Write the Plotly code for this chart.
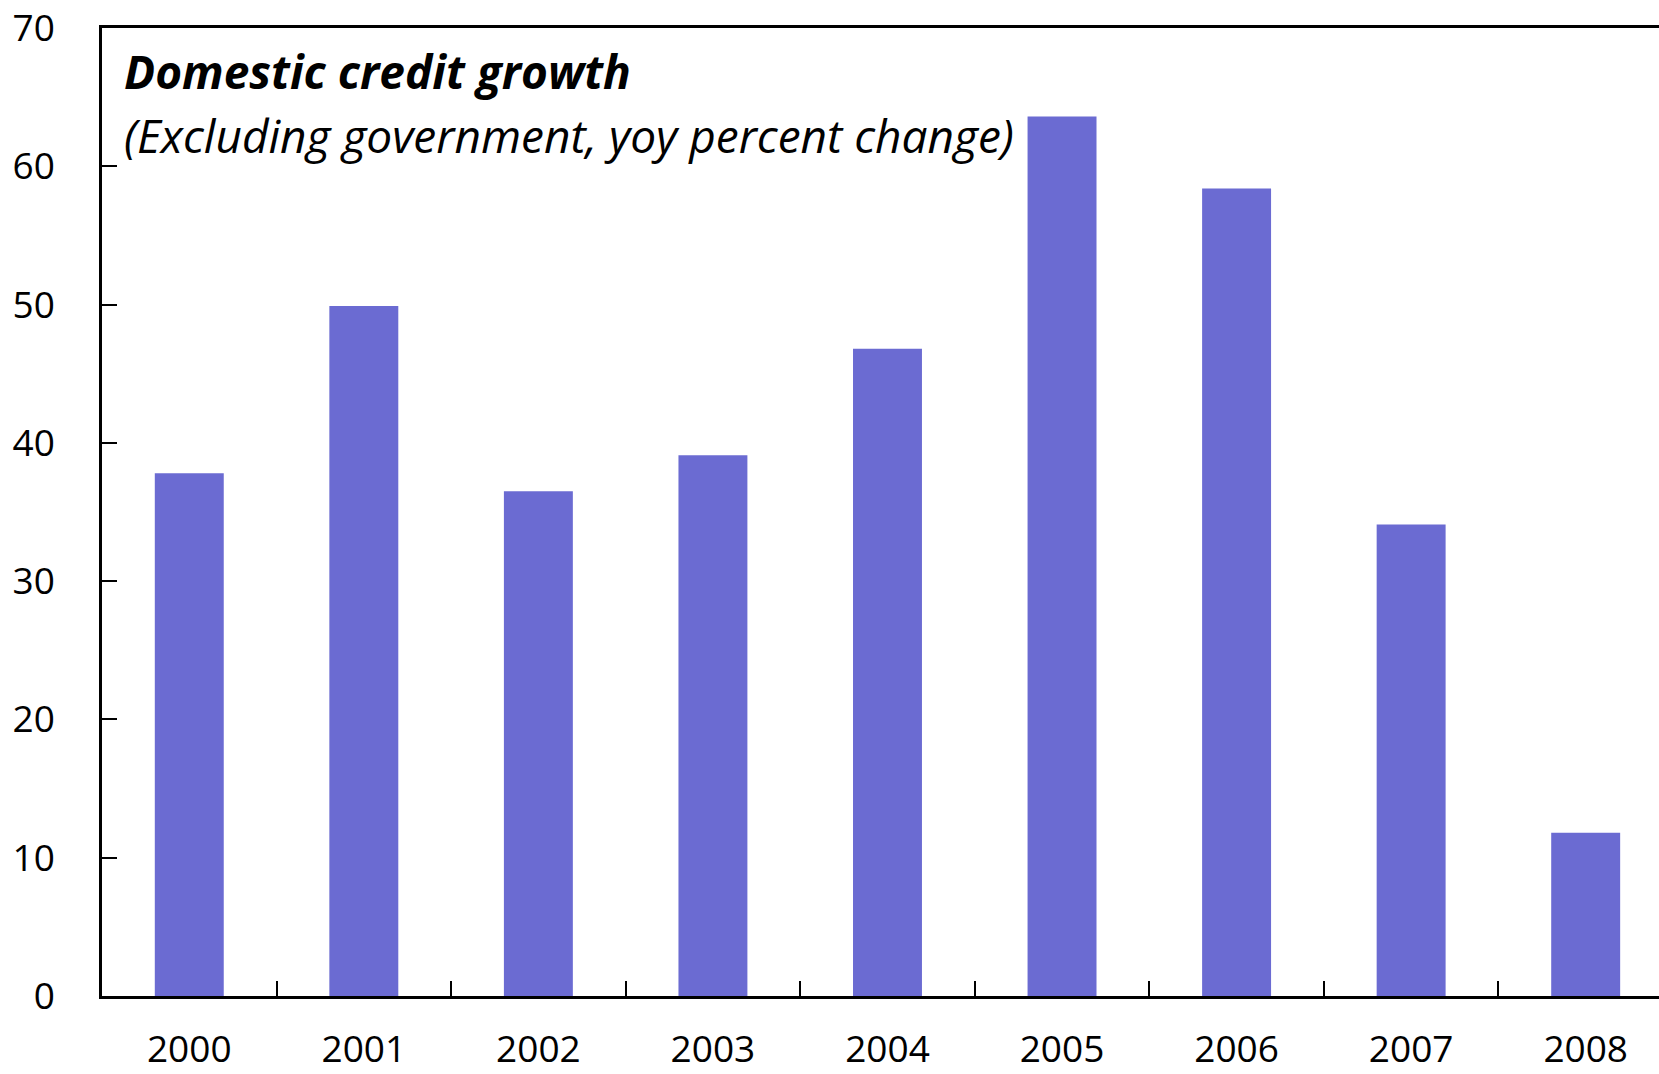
import plotly.graph_objects as go

# Domestic credit growth, excluding government (yoy % change)
years = ["2000", "2001", "2002", "2003", "2004", "2005", "2006", "2007", "2008"]
growth = [37.8, 49.9, 36.5, 39.1, 46.8, 63.6, 58.4, 34.1, 11.8]

y_ticks = [0, 10, 20, 30, 40, 50, 60, 70]

title_main = "Domestic credit growth"
title_sub = "(Excluding government, yoy percent change)"

FONT = "Open Sans"
BAR_COLOR = "#6B6BD2"

fig = go.Figure(
    go.Bar(
        x=years,
        y=growth,
        marker=dict(color=BAR_COLOR, line=dict(width=0)),
        width=0.395,
    )
)

fig.update_layout(
    width=1659,
    height=1074,
    margin=dict(l=102, r=0, t=28, b=78, pad=0),
    paper_bgcolor="white",
    plot_bgcolor="white",
    showlegend=False,
    font=dict(family=FONT, size=38, color="black"),
)

fig.update_xaxes(
    type="category",
    range=[-0.5, 8.42],
    automargin=False,
    showline=True,
    linecolor="black",
    linewidth=2.5,
    mirror=True,
    ticks="inside",
    tickson="boundaries",
    ticklen=15,
    tickwidth=2,
    tickcolor="black",
    showgrid=False,
    ticklabelstandoff=19,
    tickfont=dict(family=FONT, size=37),
)

fig.update_yaxes(
    range=[0, 70],
    tickvals=y_ticks,
    automargin=False,
    showline=True,
    linecolor="black",
    linewidth=2.5,
    mirror=False,
    ticks="inside",
    ticklen=15,
    tickwidth=2,
    tickcolor="black",
    showgrid=False,
    zeroline=False,
    ticklabelstandoff=37,
    tickfont=dict(family=FONT, size=37),
)

fig.add_annotation(
    text="<b><i>" + title_main + "</i></b>",
    xref="paper", yref="paper", x=0, y=1,
    xanchor="left", yanchor="middle",
    xshift=20, yshift=-43,
    showarrow=False,
    font=dict(family=FONT, size=46, color="black"),
)
fig.add_annotation(
    text="<i>" + title_sub + "</i>",
    xref="paper", yref="paper", x=0, y=1,
    xanchor="left", yanchor="middle",
    xshift=20, yshift=-107,
    showarrow=False,
    font=dict(family=FONT, size=46, color="black"),
)

fig.write_html("out.html")
